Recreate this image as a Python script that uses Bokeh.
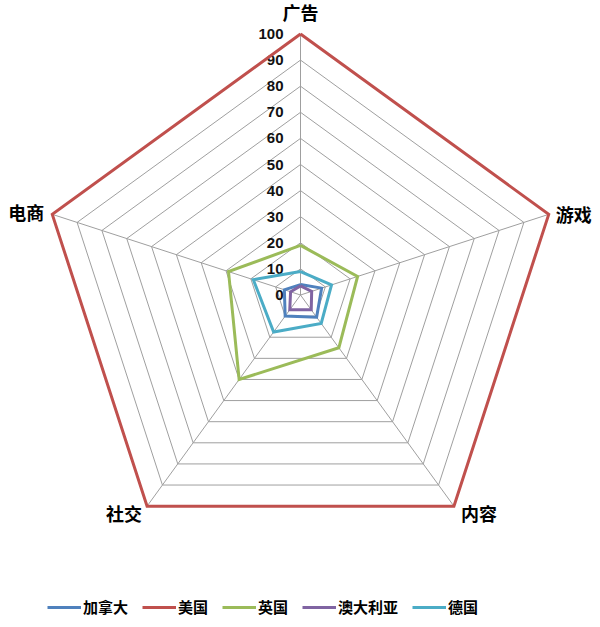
import numpy as np
from bokeh.plotting import figure
from bokeh.models import Range1d, Legend, LegendItem
from bokeh.embed import file_html
from bokeh.resources import INLINE
from bokeh.core.properties import value

# ---- data ----
categories = ["广告", "游戏", "内容", "社交", "电商"]
series_names = ["加拿大", "美国", "英国", "澳大利亚", "德国"]
canada = [4, 8.5, 10.5, 10, 6.5]
usa = [100, 100, 100, 100, 100]
uk = [19, 23, 25, 40, 29]
australia = [3.5, 4.5, 7, 7, 4]
germany = [9, 12.5, 13.5, 17.5, 19]
tick_values = [0, 10, 20, 30, 40, 50, 60, 70, 80, 90, 100]
tick_labels = [str(t) for t in tick_values]

series_values = [canada, usa, uk, australia, germany]
colors = ["#4F81BD", "#C0504D", "#9BBB59", "#8064A2", "#4BACC6"]

# ---- geometry ----
n = len(categories)
theta = np.pi / 2 - 2 * np.pi * np.arange(n) / n
cx, cy = np.cos(theta), np.sin(theta)
scale = 2.61  # px per unit
W, H = 592, 619
xc, yc = 300.0, 294.5  # center in canvas px

p = figure(width=W, height=H, output_backend="svg", toolbar_location=None,
           x_range=Range1d(-xc / scale, (W - xc) / scale),
           y_range=Range1d(-(H - yc) / scale, yc / scale),
           min_border=0, tools="")
p.axis.visible = False
p.grid.visible = False
p.outline_line_color = None
p.background_fill_color = "white"

grid_color = "#9F9F9F"
# rings
ring_xs, ring_ys = [], []
for r in tick_values[1:]:
    ring_xs.append(list(np.append(cx, cx[0]) * r))
    ring_ys.append(list(np.append(cy, cy[0]) * r))
p.multi_line(ring_xs, ring_ys, line_color=grid_color, line_width=1)
# spokes
rmax = tick_values[-1]
p.multi_line([[0, c * rmax] for c in cx], [[0, s * rmax] for s in cy],
             line_color=grid_color, line_width=1)

# tick labels along top spoke
p.text(x=[0] * len(tick_values), y=tick_values, text=tick_labels,
       text_align="right", text_baseline="middle", x_offset=-17,
       text_font=value("Liberation Sans"), text_font_style="bold",
       text_font_size="15px", text_color="#111111")

# category labels
aligns = ["center", "left", "left", "right", "right"]
baselines = ["bottom", "middle", "middle", "middle", "middle"]
xoffs = [0, 7, 7, -5, -8]
yoffs = [-9, 0, 7, 7, -2]
for i, cat in enumerate(categories):
    p.text(x=[cx[i] * rmax], y=[cy[i] * rmax], text=[cat],
           text_align=aligns[i], text_baseline=baselines[i],
           x_offset=xoffs[i], y_offset=yoffs[i],
           text_font=value("Noto Sans CJK SC"), text_font_style="bold",
           text_font_size="18px", text_color="#000000")

# series
items = []
for name, vals, col in zip(series_names, series_values, colors):
    v = np.array(vals, dtype=float)
    xs = list(np.append(cx * v, cx[0] * v[0]))
    ys = list(np.append(cy * v, cy[0] * v[0]))
    r = p.line(xs, ys, line_color=col, line_width=3, line_join="miter")
    items.append(LegendItem(label=name, renderers=[r]))

legend = Legend(items=items, orientation="horizontal", location=(47, 2),
                glyph_width=34, glyph_height=20, label_standoff=2, spacing=14,
                padding=0, margin=0, border_line_alpha=0,
                background_fill_alpha=0,
                label_text_font="Noto Sans CJK SC", label_text_font_style="bold",
                label_text_font_size="15px", label_text_color="#000000")
p.add_layout(legend)

open("out.html", "w").write(file_html(p, INLINE))
